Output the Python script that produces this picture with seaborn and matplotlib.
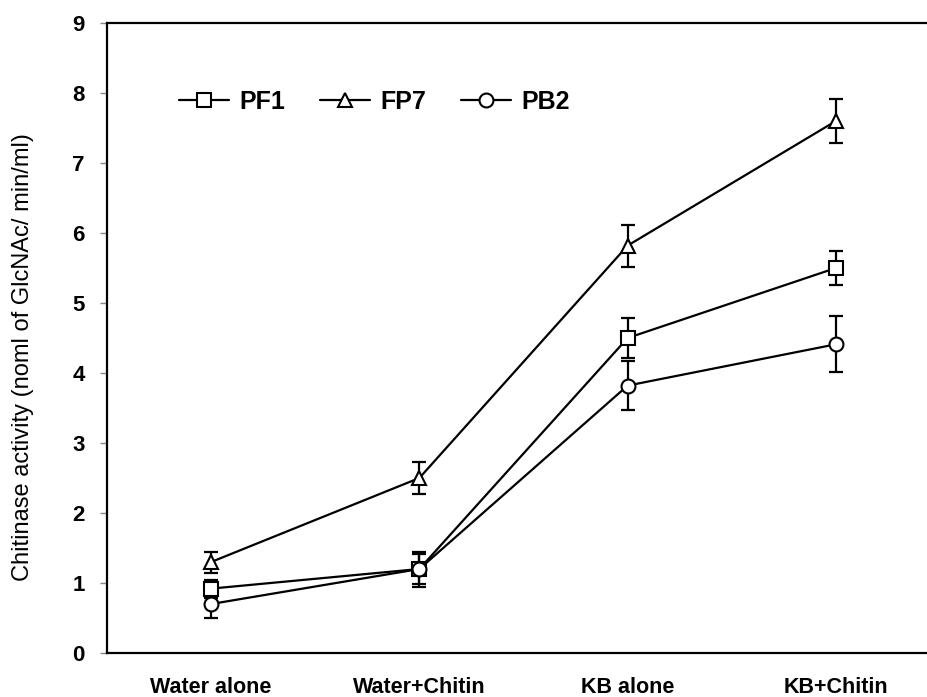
import numpy as np
import pandas as pd
import matplotlib
matplotlib.use("Agg")
import matplotlib.pyplot as plt
from matplotlib.lines import Line2D
import seaborn as sns

sns.set_style("white")
plt.rcParams['font.family'] = ['Liberation Sans', 'DejaVu Sans']
plt.rcParams['text.color'] = 'black'
plt.rcParams['axes.labelcolor'] = 'black'
plt.rcParams['xtick.color'] = 'black'
plt.rcParams['ytick.color'] = 'black'

# data
treatments = ['Water alone', 'Water+Chitin', 'KB alone', 'KB+Chitin']
strains = ['PF1', 'FP7', 'PB2']
pf1 = [0.92, 1.20, 4.50, 5.50]
pf1_err = [0.13, 0.22, 0.28, 0.24]
fp7 = [1.30, 2.50, 5.82, 7.60]
fp7_err = [0.15, 0.23, 0.30, 0.32]
pb2 = [0.70, 1.20, 3.82, 4.41]
pb2_err = [0.20, 0.25, 0.35, 0.40]

means = {'PF1': pf1, 'FP7': fp7, 'PB2': pb2}
errs = {'PF1': pf1_err, 'FP7': fp7_err, 'PB2': pb2_err}
marker_map = {'PF1': 's', 'FP7': '^', 'PB2': 'o'}

df = pd.DataFrame([
    {'treatment': t, 'strain': s, 'activity': means[s][i]}
    for s in strains for i, t in enumerate(treatments)
])

fig = plt.figure(figsize=(9.28, 6.97), dpi=100)
ax = fig.add_axes([107 / 928, 1 - 653 / 697, 833 / 928, 630 / 697])

sns.lineplot(data=df, x='treatment', y='activity', hue='strain', style='strain',
             palette={s: 'black' for s in strains}, markers=marker_map, dashes=False,
             markersize=10, markerfacecolor='white', markeredgecolor='black',
             markeredgewidth=1.5, linewidth=1.6, legend=False, sort=False,
             ax=ax, zorder=3)

for s in strains:
    ax.errorbar(np.arange(len(treatments)), means[s], yerr=errs[s], fmt='none',
                ecolor='black', elinewidth=1.6, capsize=4.8, capthick=1.6, zorder=2)

ax.set_xlim(-0.5, 3.5)
ax.set_ylim(0, 9)
ax.set_yticks(range(0, 10))
ax.set_xticks(range(len(treatments)))
ax.set_xticklabels(treatments, fontsize=15.5, fontweight='bold')
ax.tick_params(axis='y', direction='out', length=5, width=1, pad=11,
               labelsize=16, left=True, color='#888888')
for lab in ax.get_yticklabels():
    lab.set_fontweight('bold')
ax.tick_params(axis='x', length=0, pad=17)
ax.set_xlabel('')
ax.set_ylabel('Chitinase activity (noml of GlcNAc/ min/ml)', fontsize=17)
ax.yaxis.set_label_coords(-0.088, 0.47)

for side in ['left', 'bottom', 'top']:
    ax.spines[side].set_color('black')
    ax.spines[side].set_linewidth(1.6)
ax.spines['right'].set_visible(False)

handles = [Line2D([], [], color='black', lw=1.6, marker=marker_map[s], markersize=10,
                  markerfacecolor='white', markeredgecolor='black', markeredgewidth=1.5)
           for s in strains]
ax.legend(handles, strains, ncol=3, frameon=False, loc='upper left',
          bbox_to_anchor=(0.06, 0.93), prop={'weight': 'bold', 'size': 18},
          handlelength=2.0, handletextpad=0.4, columnspacing=1.4)

fig.savefig('out.png', dpi=100)
